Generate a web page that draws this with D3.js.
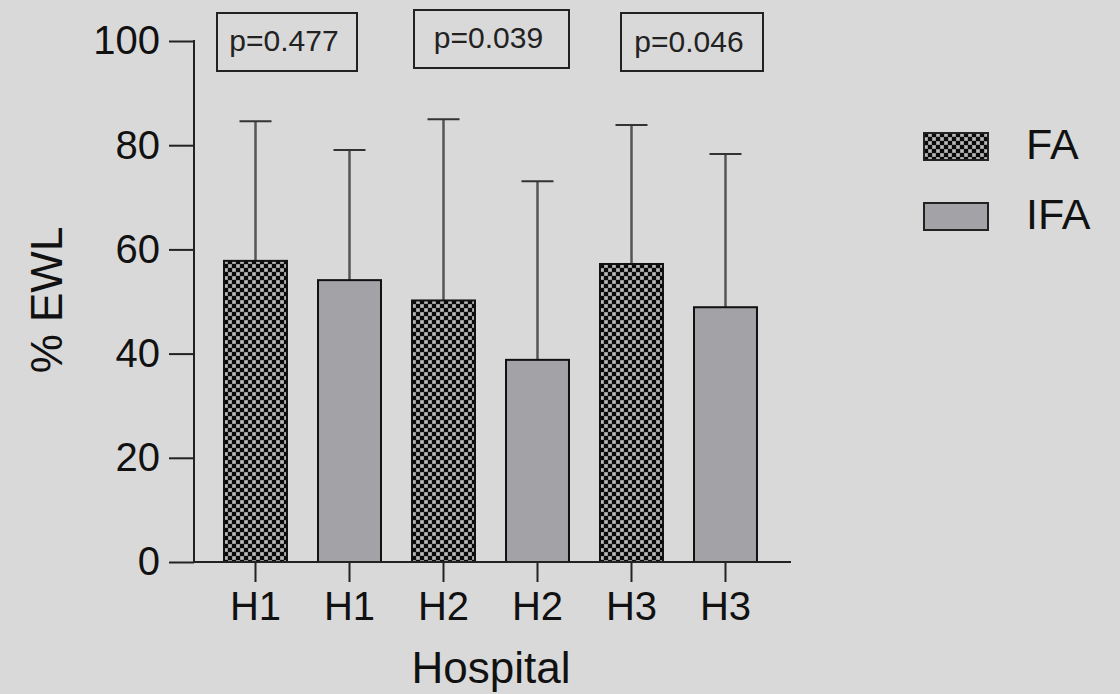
<!DOCTYPE html>
<html>
<head>
<meta charset="utf-8">
<script src="https://cdn.jsdelivr.net/npm/d3@7"></script>
<style>
  html, body { margin: 0; padding: 0; background: #d9d9d9; }
  svg { display: block; font-family: "Liberation Sans", Arial, sans-serif; }
</style>
</head>
<body>
<div id="chart"></div>
<script>
// data
const labels = ["H1", "H1", "H2", "H2", "H3", "H3"];
const groups = ["FA", "IFA", "FA", "IFA", "FA", "IFA"];
const means = [57.8, 54.1, 50.2, 38.8, 57.2, 48.9];
const upper = [84.6, 79.1, 85.0, 73.1, 83.9, 78.3];
const pValues = ["p=0.477", "p=0.039", "p=0.046"];
const yTicks = [0, 20, 40, 60, 80, 100];
const legendItems = ["FA", "IFA"];

const width = 1120;
const height = 694;

const svg = d3.select('#chart')
  .append('svg')
  .attr('width', width)
  .attr('height', height);

svg.append('rect').attr('width', width).attr('height', height).attr('fill', '#d9d9d9');

// checker pattern for FA
const defs = svg.append('defs');
const pat = defs.append('pattern')
  .attr('id', 'checker')
  .attr('patternUnits', 'userSpaceOnUse')
  .attr('width', 8).attr('height', 8);
pat.append('rect').attr('width', 8).attr('height', 8).attr('fill', '#7a7a7a');
pat.append('rect').attr('x', 0).attr('y', 0).attr('width', 4).attr('height', 4).attr('fill', '#0a0a0a');
pat.append('rect').attr('x', 4).attr('y', 4).attr('width', 4).attr('height', 4).attr('fill', '#0a0a0a');
pat.append('rect').attr('x', 4.5).attr('y', 0.5).attr('width', 3).attr('height', 3).attr('fill', '#b8b8b8');
pat.append('rect').attr('x', 0.5).attr('y', 4.5).attr('width', 3).attr('height', 3).attr('fill', '#b8b8b8');

const fillFor = g => g === "FA" ? "url(#checker)" : "#a3a3a7";

const x = d3.scaleBand()
  .domain(d3.range(labels.length))
  .range([193, 788])
  .paddingInner(0.33)
  .paddingOuter(0.33);

const y = d3.scaleLinear()
  .domain([0, 100])
  .range([562, 41]);

// error bars (upper only)
const err = svg.append('g');
err.selectAll('line.v')
  .data(means)
  .join('line')
  .attr('class', 'v')
  .attr('x1', (d, i) => x(i) + x.bandwidth() / 2)
  .attr('x2', (d, i) => x(i) + x.bandwidth() / 2)
  .attr('y1', d => y(d))
  .attr('y2', (d, i) => y(upper[i]))
  .attr('stroke', '#555')
  .attr('stroke-width', 2.5);
err.selectAll('line.cap')
  .data(upper)
  .join('line')
  .attr('class', 'cap')
  .attr('x1', (d, i) => x(i) + x.bandwidth() / 2 - 16)
  .attr('x2', (d, i) => x(i) + x.bandwidth() / 2 + 16)
  .attr('y1', d => y(d))
  .attr('y2', d => y(d))
  .attr('stroke', '#333')
  .attr('stroke-width', 2);

// bars
svg.append('g')
  .selectAll('rect')
  .data(means)
  .join('rect')
  .attr('x', (d, i) => x(i))
  .attr('y', d => y(d))
  .attr('width', x.bandwidth())
  .attr('height', d => y(0) - y(d))
  .attr('fill', (d, i) => fillFor(groups[i]))
  .attr('stroke', '#111')
  .attr('stroke-width', 2);

// y axis
const yAxis = svg.append('g')
  .attr('transform', 'translate(194,0)')
  .call(d3.axisLeft(y).tickValues(yTicks).tickSize(25).tickPadding(9));
yAxis.select('.domain').remove();
yAxis.selectAll('.tick line').attr('stroke', '#222').attr('stroke-width', 2);
yAxis.selectAll('.tick text').attr('font-size', 40).attr('fill', '#111')
  .attr('font-family', '"Liberation Sans", Arial, sans-serif');
yAxis.append('line')
  .attr('x1', 0).attr('x2', 0)
  .attr('y1', y(100) - 1).attr('y2', y(0))
  .attr('stroke', '#222').attr('stroke-width', 2);

// x axis
const xAxis = svg.append('g')
  .attr('transform', `translate(0,${y(0)})`)
  .call(d3.axisBottom(x).tickFormat(i => labels[i]).tickSize(20).tickPadding(10));
xAxis.select('.domain').remove();
xAxis.selectAll('.tick line').attr('stroke', '#222').attr('stroke-width', 2);
xAxis.selectAll('.tick text').attr('font-size', 40).attr('fill', '#111')
  .attr('font-family', '"Liberation Sans", Arial, sans-serif');
xAxis.append('line')
  .attr('x1', 193).attr('x2', 791)
  .attr('y1', 0).attr('y2', 0)
  .attr('stroke', '#222').attr('stroke-width', 2);

// axis titles
svg.append('text')
  .attr('transform', 'translate(62,300) rotate(-90)')
  .attr('text-anchor', 'middle')
  .attr('font-size', 44)
  .attr('fill', '#111')
  .text('% EWL');

svg.append('text')
  .attr('x', 491)
  .attr('y', 683)
  .attr('text-anchor', 'middle')
  .attr('font-size', 44)
  .attr('fill', '#111')
  .text('Hospital');

// p-value boxes
const boxes = [
  { x: 217, y: 13, w: 140, h: 58, base: 51 },
  { x: 414, y: 10, w: 155, h: 58, base: 48 },
  { x: 621, y: 13, w: 142, h: 58, base: 52 }
];
const pg = svg.append('g').selectAll('g')
  .data(pValues)
  .join('g');
pg.append('rect')
  .attr('x', (d, i) => boxes[i].x)
  .attr('y', (d, i) => boxes[i].y)
  .attr('width', (d, i) => boxes[i].w)
  .attr('height', (d, i) => boxes[i].h)
  .attr('fill', 'none')
  .attr('stroke', '#222')
  .attr('stroke-width', 2);
pg.append('text')
  .attr('x', (d, i) => boxes[i].x + boxes[i].w / 2 - 3)
  .attr('y', (d, i) => boxes[i].base)
  .attr('text-anchor', 'middle')
  .attr('font-size', 30)
  .attr('fill', '#222')
  .text(d => d);

// legend
const legend = svg.append('g').selectAll('g')
  .data(legendItems)
  .join('g')
  .attr('transform', (d, i) => `translate(924,${133 + i * 70})`);
legend.append('rect')
  .attr('width', 64)
  .attr('height', 27)
  .attr('fill', d => fillFor(d))
  .attr('stroke', '#222')
  .attr('stroke-width', 2);
legend.append('text')
  .attr('x', 102)
  .attr('y', 26)
  .attr('font-size', 43)
  .attr('fill', '#111')
  .text(d => d);
</script>
</body>
</html>
